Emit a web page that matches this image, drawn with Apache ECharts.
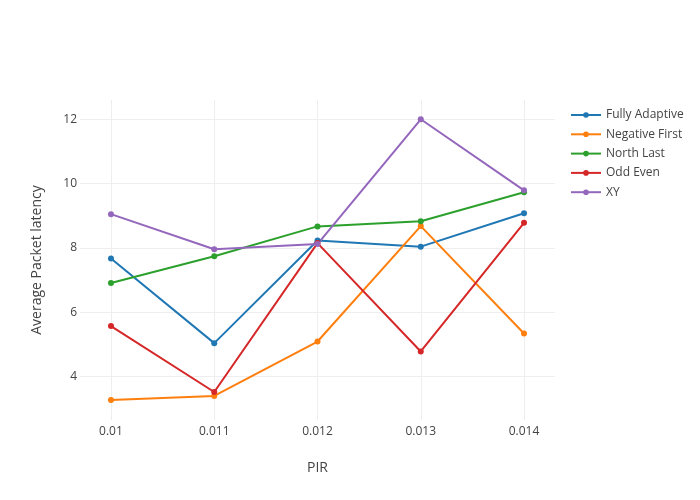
<!DOCTYPE html>
<html>
<head>
<meta charset="utf-8">
<script src="https://cdn.jsdelivr.net/npm/echarts@6/dist/echarts.min.js"></script>
<style>html,body{margin:0;padding:0;background:#fff;}#c{width:700px;height:500px;}</style>
</head>
<body>
<div id="c"></div>
<script>
const pir = [0.01, 0.011, 0.012, 0.013, 0.014];
const xTicks = [0.01, 0.011, 0.012, 0.013, 0.014];
const yTicks = [4, 6, 8, 10, 12];
const fullyAdaptive = [7.67, 5.04, 8.23, 8.04, 9.08];
const negativeFirst = [3.27, 3.40, 5.09, 8.68, 5.34];
const northLast = [6.91, 7.74, 8.67, 8.83, 9.73];
const oddEven = [5.57, 3.52, 8.15, 4.78, 8.78];
const xy = [9.05, 7.96, 8.12, 12.0, 9.79];
const seriesNames = ['Fully Adaptive', 'Negative First', 'North Last', 'Odd Even', 'XY'];
const colors = ['#1f77b4', '#ff7f0e', '#2ca02c', '#d62728', '#9467bd'];
const allData = [fullyAdaptive, negativeFirst, northLast, oddEven, xy];

const font = '"Open Sans", sans-serif';
const chart = echarts.init(document.getElementById('c'), null, {renderer: 'canvas'});
chart.setOption({
  animation: false,
  backgroundColor: '#fff',
  color: colors,
  grid: {left: 80, right: 145, top: 100, bottom: 80, containLabel: false},
  legend: {
    orient: 'vertical', left: 565, top: 104,
    itemWidth: 30, itemHeight: 7, itemGap: 7.3,
    textStyle: {fontFamily: font, fontSize: 12, color: '#444'},
    data: seriesNames
  },
  xAxis: {
    type: 'value', min: 0.0097, max: 0.0143,
    name: 'PIR', nameLocation: 'middle', nameGap: 41,
    nameTextStyle: {fontFamily: font, fontSize: 14, color: '#444'},
    axisLine: {show: false}, axisTick: {show: false, customValues: xTicks},
    axisLabel: {customValues: xTicks, fontFamily: font, fontSize: 12, color: '#444', margin: 6,
      formatter: v => String(+v.toFixed(3))},
    splitLine: {show: true, customValues: xTicks, lineStyle: {color: '#eee', width: 1}}
  },
  yAxis: {
    type: 'value', min: 2.65, max: 12.6,
    name: 'Average Packet latency', nameLocation: 'middle', nameGap: 36,
    nameTextStyle: {fontFamily: font, fontSize: 14, color: '#444'},
    axisLine: {show: false}, axisTick: {show: false, customValues: yTicks},
    axisLabel: {customValues: yTicks, fontFamily: font, fontSize: 12, color: '#444', margin: 3},
    splitLine: {show: true, customValues: yTicks, lineStyle: {color: '#eee', width: 1}}
  },
  series: seriesNames.map((n, i) => ({
    name: n, type: 'line',
    data: pir.map((x, j) => [x, allData[i][j]]),
    symbol: 'circle', symbolSize: 6, showSymbol: true,
    lineStyle: {width: 2, color: colors[i]},
    itemStyle: {color: colors[i]}
  }))
});
</script>
</body>
</html>
